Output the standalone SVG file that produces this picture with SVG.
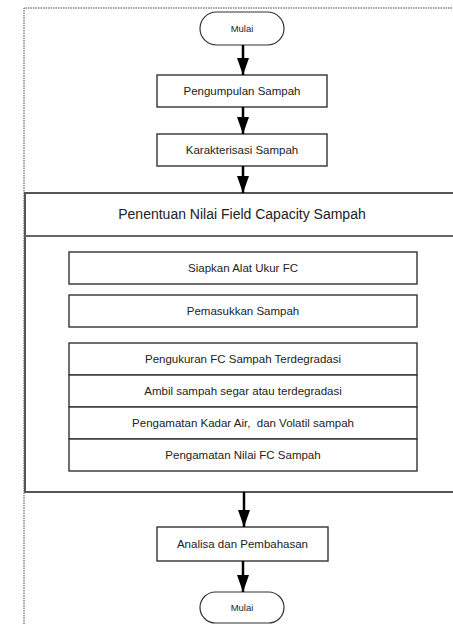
<svg xmlns="http://www.w3.org/2000/svg" width="453" height="624" viewBox="0 0 453 624">
<defs>
<marker id="arr" markerWidth="17" markerHeight="12" refX="17" refY="6" orient="auto" markerUnits="userSpaceOnUse" viewBox="0 0 17 12">
<path d="M0,0 L17,6 L0,12 Z" fill="#000"/>
</marker>
</defs>
<style>
.box{fill:#fff;stroke:#333;stroke-width:1.4}
.term{fill:#fff;stroke:#333;stroke-width:1.2}
.t{font-family:"Liberation Sans",Arial,sans-serif;font-size:11.5px;fill:#222;text-anchor:middle;dominant-baseline:central}
.small{font-size:9.5px}
.hdr{font-size:14px}
.conn{stroke:#000;stroke-width:2.5;fill:none}
</style>
<rect x="0" y="0" width="453" height="624" fill="#fff"/>
<path d="M24,624 L24,8 L453,8" fill="none" stroke="#444" stroke-width="1" stroke-dasharray="1.5,1"/>
<g id="container">
<rect x="25" y="193" width="440" height="299" fill="#fff" stroke="#555" stroke-width="2"/>
<line x1="25" y1="236" x2="453" y2="236" stroke="#666" stroke-width="1.8"/>
<text class="t hdr" x="242" y="214">Penentuan Nilai Field Capacity Sampah</text>
</g>
<g id="start">
<rect class="term" x="200" y="12" width="84" height="33" rx="16.5"/>
<text class="t small" x="242" y="28.5">Mulai</text>
</g>
<g id="n1">
<rect class="box" x="157" y="75" width="170" height="32"/>
<text class="t" x="242" y="91">Pengumpulan Sampah</text>
</g>
<g id="n2">
<rect class="box" x="157" y="134" width="170" height="32"/>
<text class="t" x="242" y="150">Karakterisasi Sampah</text>
</g>
<g id="s1">
<rect class="box" x="69" y="252" width="348" height="32"/>
<text class="t" x="243" y="268">Siapkan Alat Ukur FC</text>
</g>
<g id="s2">
<rect class="box" x="69" y="295" width="348" height="32"/>
<text class="t" x="243" y="311">Pemasukkan Sampah</text>
</g>
<g id="s3">
<rect class="box" x="69" y="343" width="348" height="32"/>
<text class="t" x="243" y="359">Pengukuran FC Sampah Terdegradasi</text>
</g>
<g id="s4">
<rect class="box" x="69" y="375" width="348" height="32"/>
<text class="t" x="243" y="391">Ambil sampah segar atau terdegradasi</text>
</g>
<g id="s5">
<rect class="box" x="69" y="407" width="348" height="32"/>
<text class="t" x="243" y="423" xml:space="preserve">Pengamatan Kadar Air,  dan Volatil sampah</text>
</g>
<g id="s6">
<rect class="box" x="69" y="439" width="348" height="32"/>
<text class="t" x="243" y="455">Pengamatan Nilai FC Sampah</text>
</g>
<g id="n3">
<rect class="box" x="157" y="527" width="171" height="34"/>
<text class="t" x="242.5" y="544">Analisa dan Pembahasan</text>
</g>
<g id="end">
<rect class="term" x="200" y="592" width="84" height="31" rx="15.5"/>
<text class="t small" x="242" y="607.5">Mulai</text>
</g>
<g id="connectors">
<line class="conn" x1="243" y1="45" x2="243" y2="75" marker-end="url(#arr)"/>
<line class="conn" x1="243" y1="107" x2="243" y2="134" marker-end="url(#arr)"/>
<line class="conn" x1="243" y1="166" x2="243" y2="193" marker-end="url(#arr)"/>
<line class="conn" x1="244" y1="492" x2="244" y2="527" marker-end="url(#arr)"/>
<line class="conn" x1="243" y1="561" x2="243" y2="592" marker-end="url(#arr)"/>
</g>
</svg>
